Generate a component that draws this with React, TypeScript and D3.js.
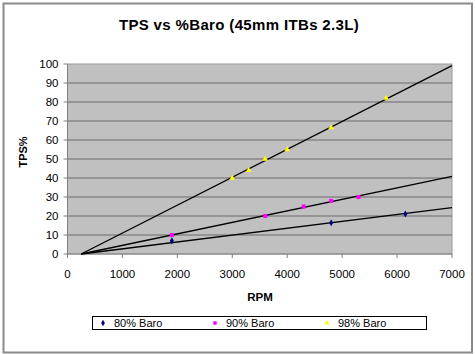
import React from "react";
import * as d3 from "d3";

// 読み取った値
const rpm80 = [1900, 4800, 6150];
const tps80 = [7, 16.5, 21];
const rpm90 = [1900, 3600, 4300, 4800, 5300];
const tps90 = [10, 20, 25, 28, 30];
const rpm98 = [3000, 3300, 3600, 4000, 4800, 5800];
const tps98 = [40, 44, 50, 55, 66.5, 82];

const seriesNames = ["80% Baro", "90% Baro", "98% Baro"];
const xTicks = [0, 1000, 2000, 3000, 4000, 5000, 6000, 7000];
const yTicks = [0, 10, 20, 30, 40, 50, 60, 70, 80, 90, 100];
const idleRpm = 250; // trendline anchor (TPS 0)

const W = 475;
const H = 354;
const plot = { left: 67.5, right: 452, top: 64, bottom: 254 };
const font = "Arial, 'Liberation Sans', sans-serif";

type Pt = { x: number; y: number };

const zip = (xs: number[], ys: number[]): Pt[] => xs.map((x, i) => ({ x, y: ys[i] }));

// least squares through (idleRpm, 0)
const slopeFrom = (pts: Pt[]) => {
  const sxy = d3.sum(pts, (p) => (p.x - idleRpm) * p.y);
  const sxx = d3.sum(pts, (p) => (p.x - idleRpm) ** 2);
  return sxy / sxx;
};

const App: React.FC = () => {
  const x = d3.scaleLinear().domain([0, 7000]).range([plot.left, plot.right]);
  const y = d3.scaleLinear().domain([0, 100]).range([plot.bottom, plot.top]);

  const series = [
    { name: seriesNames[0], pts: zip(rpm80, tps80), color: "#000080", shape: d3.symbolDiamond, size: 14 },
    { name: seriesNames[1], pts: zip(rpm90, tps90), color: "#ff00ff", shape: d3.symbolSquare, size: 16 },
    { name: seriesNames[2], pts: zip(rpm98, tps98), color: "#ffff00", shape: d3.symbolTriangle, size: 14 },
  ];

  const line = d3
    .line<Pt>()
    .x((d) => x(d.x))
    .y((d) => y(d.y));

  const legendX = [103, 215, 327];

  return (
    <svg
      width={W}
      height={H}
      style={{ position: "absolute", left: 0, top: 0, fontFamily: font }}
    >
      <rect x={0} y={0} width={W} height={H} fill="#fff" />
      <rect x={3.5} y={3.5} width={468.5} height={349} fill="#fff" stroke="#8a8a8a" strokeWidth={2} />

      <text x={239} y={30} textAnchor="middle" fontSize={15} fontWeight="bold" letterSpacing={0.35}>
        TPS vs %Baro (45mm ITBs 2.3L)
      </text>

      {/* plot area */}
      <rect
        x={plot.left}
        y={plot.top}
        width={plot.right - plot.left}
        height={plot.bottom - plot.top}
        fill="#c0c0c0"
        stroke="#9a9a9a"
        strokeWidth={1}
      />
      {yTicks.slice(1, -1).map((t) => (
        <line key={"g" + t} x1={plot.left} x2={plot.right} y1={y(t)} y2={y(t)} stroke="#6a6a6a" strokeWidth={1} />
      ))}

      {/* axes */}
      <line x1={plot.left} x2={plot.left} y1={plot.top} y2={plot.bottom} stroke="#808080" />
      <line x1={plot.left} x2={plot.right} y1={plot.bottom} y2={plot.bottom} stroke="#808080" />
      {yTicks.map((t) => (
        <g key={"y" + t}>
          <line x1={plot.left - 4} x2={plot.left} y1={y(t)} y2={y(t)} stroke="#808080" />
          <text x={plot.left - 9} y={y(t) + 4} textAnchor="end" fontSize={11.5}>
            {t}
          </text>
        </g>
      ))}
      {xTicks.map((t) => (
        <g key={"x" + t}>
          <line x1={x(t)} x2={x(t)} y1={plot.bottom} y2={plot.bottom + 4} stroke="#808080" />
          <text x={x(t)} y={278} textAnchor="middle" fontSize={11.5}>
            {t}
          </text>
        </g>
      ))}

      <text x={260} y={301} textAnchor="middle" fontSize={11.5} fontWeight="bold">
        RPM
      </text>
      <text
        transform="translate(27,152) rotate(-90)"
        textAnchor="middle"
        fontSize={11}
        fontWeight="bold"
      >
        TPS%
      </text>

      {/* trendlines */}
      {series.map((s) => {
        const m = slopeFrom(s.pts);
        const ends: Pt[] = [
          { x: idleRpm, y: 0 },
          { x: 7000, y: m * (7000 - idleRpm) },
        ];
        return <path key={"t" + s.name} d={line(ends) ?? ""} stroke="#000" strokeWidth={1.4} fill="none" />;
      })}

      {/* markers */}
      {series.map((s) =>
        s.pts.map((p, i) => (
          <path
            key={s.name + i}
            transform={`translate(${x(p.x)},${y(p.y)})`}
            d={d3.symbol(s.shape, s.size)() ?? ""}
            fill={s.color}
          />
        ))
      )}

      {/* legend */}
      <rect x={92.5} y={316.5} width={334} height={13} fill="#fff" stroke="#000" strokeWidth={1} />
      {series.map((s, i) => (
        <g key={"l" + s.name}>
          <path
            transform={`translate(${legendX[i]},${323})`}
            d={d3.symbol(s.shape, 12)() ?? ""}
            fill={s.color}
          />
          <text x={legendX[i] + 11} y={327} fontSize={11}>
            {s.name}
          </text>
        </g>
      ))}
    </svg>
  );
};

export default App;
